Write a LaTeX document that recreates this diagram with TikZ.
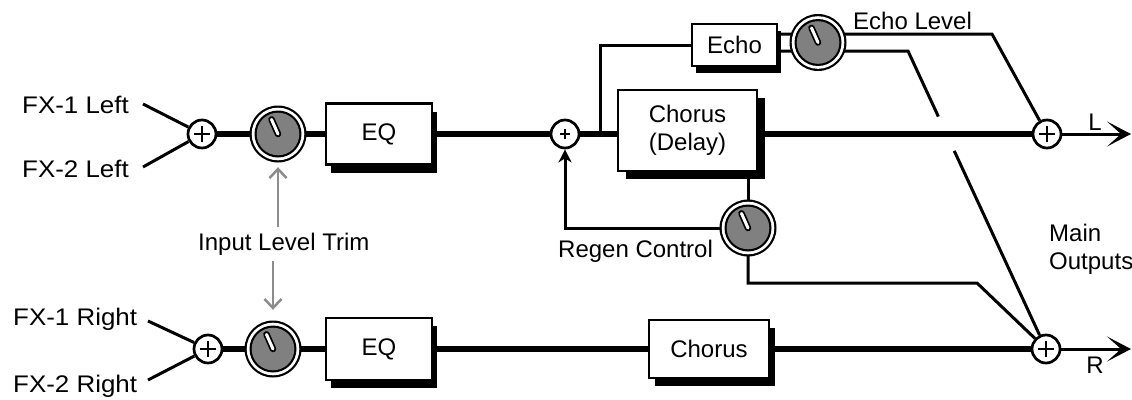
\documentclass[tikz,border=0pt]{standalone}
\usepackage{fontspec}
\setmainfont{Liberation Sans}
\newfontfamily\fxfont[FakeStretch=1.08]{Liberation Sans}
\usetikzlibrary{arrows.meta,calc,shadows}
\definecolor{knobgray}{RGB}{128,128,128}
\definecolor{arrowgray}{RGB}{140,140,140}
\begin{document}
\begin{tikzpicture}[x=1pt,y=-1pt,
  every node/.style={font=\fontsize{24}{28}\selectfont},
  thickline/.style={line width=6.5pt},
  sig/.style={line width=3pt},
  box/.style={draw, line width=2.5pt, fill=white, inner sep=0pt, align=center},
  shad/.style 2 args={drop shadow={shadow xshift=#1, shadow yshift=#2, fill=black, opacity=1}},
  sumnode/.style={circle, draw, line width=2.7pt, fill=white, minimum size=28pt, inner sep=0pt,
    path picture={\draw[line width=2.7pt]
      ([xshift=-#1]path picture bounding box.center) -- ([xshift=#1]path picture bounding box.center)
      ([yshift=-#1]path picture bounding box.center) -- ([yshift=#1]path picture bounding box.center);}},
  sumnode/.default=8pt,
  knobspot/.style={circle, minimum size=56pt, inner sep=0pt},
  knobface/.pic={
    \fill[black] (0,0) circle[radius=28.5];
    \fill[white] (0,0) circle[radius=26.3];
    \fill[black] (0,0) circle[radius=23.5];
    \fill[knobgray] (0,0) circle[radius=21.3];
    \draw[line width=6.5pt, line cap=round] (0,0) -- (-114:16);
    \draw[white, line width=3pt, line cap=round] (0,0) -- (-114:16);
  },
  lbl/.style={inner sep=0pt, anchor=base west},
  fxlbl/.style={lbl, font=\fxfont\fontsize{24}{28}\selectfont},
  garrow/.style={draw=arrowgray, line width=2.5pt, -{Straight Barb[length=9pt,width=17pt]}},
  outarrow/.style={sig, -{Stealth[length=24pt,width=25pt,inset=14pt]}},
  fbarrow/.style={sig, -{Stealth[length=13pt,width=13pt,inset=4pt]}},
]
\useasboundingbox (0,0) rectangle (1132,399);

% ---- nodes ----
\node[sumnode] (sL1) at (202,134) {};
\node[sumnode] (sR1) at (208,349) {};
\node[knobspot] (k1) at (278,134) {};
\node[knobspot] (k2) at (273,349) {};
\node[box, shad={5pt}{-8pt}, minimum width=106pt, minimum height=61pt] (eq1) at (379,134) {EQ};
\node[box, shad={5pt}{-8pt}, minimum width=106pt, minimum height=62pt] (eq2) at (379,349) {EQ};
\node[sumnode=5pt] (sm) at (565,134) {};
\node[box, shad={8pt}{-8pt}, minimum width=139pt, minimum height=81pt] (cd) at (687.5,130.5) {Chorus\\(Delay)};
\node[box, shad={4pt}{-7pt}, minimum width=85pt, minimum height=42pt] (echo) at (734.5,45) {Echo};
\node[knobspot] (ke) at (818,42.5) {};
\node[knobspot] (kr) at (748,228) {};
\node[box, shad={6pt}{-8pt}, minimum width=120pt, minimum height=58pt] (ch2) at (709,349) {Chorus};
\node[sumnode] (sumL) at (1047,134) {};
\node[sumnode] (sumR) at (1046,349) {};

% ---- labels ----
\node[fxlbl] (t1) at (22,113) {FX-1 Left};
\node[fxlbl] (t2) at (22,177) {FX-2 Left};
\node[fxlbl] (t3) at (13,325) {FX-1 Right};
\node[fxlbl] (t4) at (13,392) {FX-2 Right};
\node[lbl] (ilt) at (198,250) {Input Level Trim};
\node[lbl] (rgc) at (558,257) {Regen Control};
\node[lbl] (ecl) at (853,29) {Echo Level};
\node[inner sep=0pt, anchor=north west, align=left] (mo) at (1049,224) {Main\\Outputs};
\node[inner sep=0pt, anchor=base] (lL) at (1095,130) {L};
\node[inner sep=0pt, anchor=base] (lR) at (1095,373) {R};

% ---- coordinates ----
\coordinate (fx1l) at (143,104);
\coordinate (fx2l) at (143,167);
\coordinate (fx1r) at (148,321);
\coordinate (fx2r) at (148,380);
\coordinate (brA) at (600,134);
\coordinate (brB) at (600,45);
\coordinate (eA) at (992,34);
\coordinate (eB) at (908,51);
\coordinate (rg1) at (748,283);
\coordinate (rg2) at (977,283);
\coordinate (oL) at (1131,134);
\coordinate (oR) at (1131,349);

% ---- inputs ----
\draw[sig] (fx1l) -- (sL1);
\draw[sig] (fx2l) -- (sL1);
\draw[sig] (fx1r) -- (sR1);
\draw[sig] (fx2r) -- (sR1);

% ---- main paths ----
\draw[thickline] (sL1) -- (k1);
\draw[thickline] (k1) -- (eq1);
\draw[thickline] (eq1) -- (sm);
\draw[thickline] (sm) -- (cd.west |- sm);
\draw[thickline] (cd.east |- sumL) -- (sumL);
\draw[thickline] (sR1) -- (k2);
\draw[thickline] (k2) -- (eq2);
\draw[thickline] (eq2) -- (ch2);
\draw[thickline] (ch2) -- (sumR);

% ---- echo ----
\draw[sig] (brA) -- (brB) -- (echo.west);
\draw[sig] (echo.east |- eA) -- (eA) -- (sumL);
\draw[sig] (echo.east |- eB) -- (eB) -- ($(eB)!0.22!(sumR)$);
\draw[sig] ($(eB)!0.335!(sumR)$) -- (sumR);

% ---- regen ----
\draw[sig] (cd.south -| kr) -- (kr);
\draw[fbarrow] (kr) -- (sm |- kr) -- (sm);
\draw[sig] (kr) -- (rg1) -- (rg2) -- (sumR);

% ---- outputs ----
\draw[outarrow] (sumL) -- (oL);
\draw[outarrow] (sumR) -- (oR);

% ---- input trim arrows ----
\draw[garrow, shorten <=5pt, shorten >=5pt] (ilt.north -| k1) -- (k1);
\draw[garrow, shorten <=6pt, shorten >=11pt] (ilt.south -| k2) -- (k2);

% ---- knob faces ----
\pic at (k1) {knobface};
\pic at (k2) {knobface};
\pic at (ke) {knobface};
\pic at (kr) {knobface};
\end{tikzpicture}
\end{document}
